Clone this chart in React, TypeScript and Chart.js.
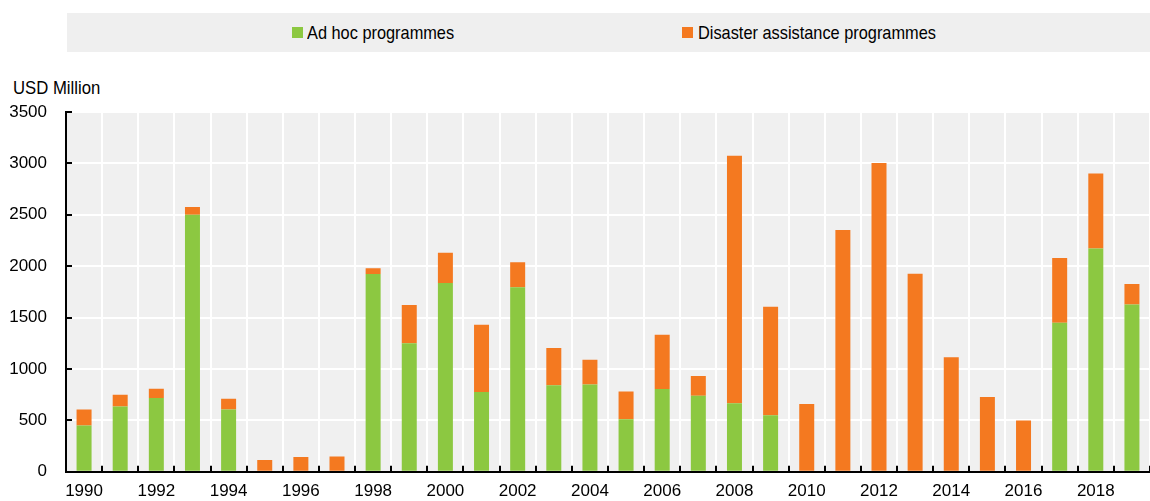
import React, { useEffect, useRef } from "react";
import { Chart, registerables } from "chart.js";

Chart.register(...registerables);

const years: string[] = [
  "1990", "1991", "1992", "1993", "1994", "1995", "1996", "1997", "1998", "1999",
  "2000", "2001", "2002", "2003", "2004", "2005", "2006", "2007", "2008", "2009",
  "2010", "2011", "2012", "2013", "2014", "2015", "2016", "2017", "2018", "2019",
];

const adHoc: (number | null)[] = [
  450, 635, 718, 2500, 605, null, null, null, 1923, 1250,
  1837, 776, 1795, 843, 849, 510, 805, 740, 667, 551,
  null, null, null, null, null, null, null, 1449, 2173, 1628,
];

const disaster: (number | null)[] = [
  155, 115, 90, 75, 105, 115, 145, 150, 58, 372,
  294, 654, 243, 362, 241, 272, 528, 193, 2407, 1055,
  660, 2353, 3005, 1926, 1115, 728, 500, 631, 728, 199,
];

const seriesNames: string[] = ["Ad hoc programmes", "Disaster assistance programmes"];
const seriesColors: string[] = ["#8CC841", "#F47920"];
const yMax = 3500;
const yStep = 500;
const yUnit = "USD Million";

const FONT = "'Liberation Sans Narrow', 'Arial Narrow', 'Liberation Sans', Arial, sans-serif";

const plotBg = {
  id: "plotBg",
  beforeDraw(chart: any) {
    const { ctx, chartArea } = chart;
    ctx.save();
    ctx.fillStyle = "#F0F0F0";
    ctx.fillRect(chartArea.left, chartArea.top, chartArea.right - chartArea.left, chartArea.bottom - chartArea.top);
    ctx.restore();
  },
};

const innerTicks = {
  id: "innerTicks",
  afterDraw(chart: any) {
    const { ctx, chartArea } = chart;
    const xs = chart.scales.x;
    const ys = chart.scales.y;
    ctx.save();
    ctx.strokeStyle = "#000";
    ctx.lineWidth = 2;
    const step = xs.getPixelForValue(1) - xs.getPixelForValue(0);
    for (let i = 1; i <= years.length; i++) {
      const x = Math.round(xs.getPixelForValue(i) - step / 2);
      ctx.beginPath();
      ctx.moveTo(x, chartArea.bottom);
      ctx.lineTo(x, chartArea.bottom - 6);
      ctx.stroke();
    }
    ys.ticks.forEach((t: any) => {
      const y = Math.round(ys.getPixelForValue(t.value));
      ctx.beginPath();
      ctx.moveTo(chartArea.left, y);
      ctx.lineTo(chartArea.left + 6, y);
      ctx.stroke();
    });
    ctx.restore();
  },
};

export default function App() {
  const ref = useRef<HTMLCanvasElement | null>(null);

  useEffect(() => {
    document.body.style.margin = "0";
    if (!ref.current) return;
    const chart = new Chart(ref.current, {
      type: "bar",
      data: {
        labels: years,
        datasets: [
          {
            label: seriesNames[0],
            data: adHoc,
            backgroundColor: seriesColors[0],
            borderWidth: 0,
            barPercentage: 0.415,
            categoryPercentage: 1,
          },
          {
            label: seriesNames[1],
            data: disaster,
            backgroundColor: seriesColors[1],
            borderWidth: 0,
            barPercentage: 0.415,
            categoryPercentage: 1,
          },
        ],
      },
      options: {
        animation: false,
        responsive: false,
        maintainAspectRatio: false,
        layout: { padding: { top: 112, left: 0, right: 0, bottom: 0 } },
        plugins: {
          legend: { display: false },
          tooltip: { enabled: false },
        },
        scales: {
          x: {
            stacked: true,
            offset: true,
            grid: { color: "#FFFFFF", lineWidth: 2, offset: true, drawTicks: false },
            border: { color: "#000000", width: 2 },
            ticks: {
              autoSkip: false,
              maxRotation: 0,
              minRotation: 0,
              padding: 9,
              color: "#000",
              font: { family: FONT, size: 17 },
              callback: (_v: any, i: number) => (i % 2 === 0 ? years[i] : ""),
            },
            afterFit: (s: any) => {
              s.height = 25;
            },
          },
          y: {
            stacked: true,
            min: 0,
            max: yMax,
            grid: { color: "#FFFFFF", lineWidth: 2, drawTicks: false },
            border: { color: "#000000", width: 2 },
            ticks: {
              stepSize: yStep,
              padding: 19,
              color: "#000",
              font: { family: FONT, size: 17 },
              callback: (v: any) => String(v),
            },
            afterFit: (s: any) => {
              s.width = 66;
            },
          },
        },
      },
      plugins: [plotBg, innerTicks],
    });
    return () => chart.destroy();
  }, []);

  const legendText: React.CSSProperties = {
    position: "absolute",
    fontFamily: FONT,
    fontSize: 19,
    color: "#000",
    lineHeight: "19px",
    top: 10,
    whiteSpace: "nowrap",
    transform: "scaleX(0.86)",
    transformOrigin: "left center",
  };

  return (
    <div style={{ position: "relative", width: 1150, height: 501, overflow: "hidden", background: "#fff" }}>
      <div
        style={{
          position: "absolute",
          left: 67,
          top: 13,
          width: 1083,
          height: 39,
          background: "#EFEFEF",
        }}
      >
        <div style={{ position: "absolute", left: 225, top: 14, width: 11, height: 11, background: seriesColors[0] }} />
        <div style={{ ...legendText, left: 240 }}>{seriesNames[0]}</div>
        <div style={{ position: "absolute", left: 615, top: 14, width: 11, height: 11, background: seriesColors[1] }} />
        <div style={{ ...legendText, left: 631 }}>{seriesNames[1]}</div>
      </div>
      <div
        style={{
          position: "absolute",
          left: 13,
          top: 78,
          fontFamily: FONT,
          fontSize: 19,
          lineHeight: "19px",
          color: "#000",
          whiteSpace: "nowrap",
          transform: "scaleX(0.88)",
          transformOrigin: "left center",
        }}
      >
        {yUnit}
      </div>
      <canvas ref={ref} width={1150} height={501} style={{ position: "absolute", left: 0, top: 0 }} />
    </div>
  );
}
